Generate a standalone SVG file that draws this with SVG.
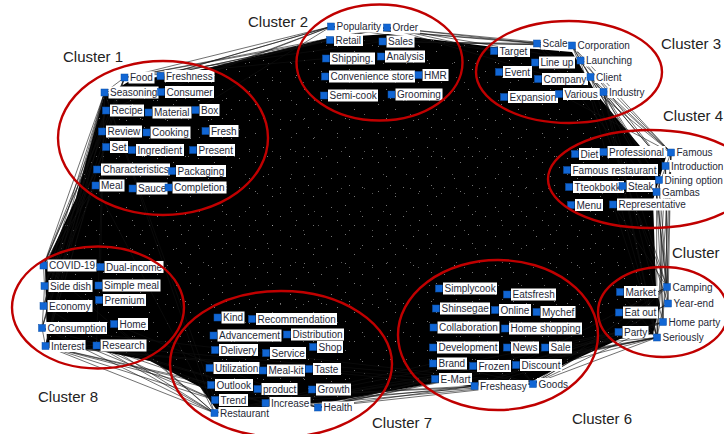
<svg xmlns="http://www.w3.org/2000/svg" width="724" height="434" viewBox="0 0 724 434">
<style>
.nd{fill:#1166d4;stroke:#0b4fa8;stroke-width:.5}
.lb{fill:#fff}
.tx{font-family:"Liberation Sans",Arial,sans-serif;font-size:10px;fill:#1e2836}
.ct{font-family:"Liberation Sans",Arial,sans-serif;font-size:15px;fill:#222}
.cl{fill:none;stroke:#c00000;stroke-width:2.4}
.ed{fill:none;stroke:#111;stroke-width:.6}
</style>
<defs>
<polygon id="hull" points="128,82 200,70 328,38 388,34 494,47 537,49 572,52 598,96 640,146 666,157 653,200 656,286 660,305 653,334 620,339 565,364 531,382 470,386 440,382 330,402 262,407 216,409 200,387 150,361 96,350 47,346 45,266 76,198 104,96"/>
<pattern id="sp1" width="41" height="29" patternUnits="userSpaceOnUse"><path d="M3 4h1v1h-1zM17 2h1v1h-1zM34 13h1v1h-1zM9 17h1v1h-1zM26 22h1v1h-1zM21 11h1v1h-1z" fill="#fff"/></pattern>
<pattern id="sp2" width="23" height="37" patternUnits="userSpaceOnUse"><path d="M4 8h1v1h-1zM15 26h1v1h-1zM19 3h1v1h-1z" fill="#fff"/></pattern>
</defs>
<rect width="724" height="434" fill="#fff"/>
<g id="connectors">
<use href="#hull" fill="#000"/>
<use href="#hull" fill="url(#sp1)" opacity=".45"/>
<use href="#hull" fill="url(#sp2)" opacity=".35"/>
<path class="ed" d="M104.5 92.5L43.5 265.5M104.5 92.5L44.5 286M104.5 92.5L43.5 306M104.5 92.5L42 328M104.5 92.5L45.5 346M104.5 92.5L96.5 345.5M104.5 92.5L214.5 413M104.5 92.5L215 400M124.5 77.5L43.5 265.5M124.5 77.5L44.5 286M124.5 77.5L42 328M124.5 77.5L45.5 346M124.5 77.5L104.5 92.5M106 110.5L43.5 265.5M106 110.5L43.5 306M106 110.5L45.5 346M102 131.5L43.5 265.5M102 131.5L42 328M106 147L44.5 286M97 169.5L43.5 265.5M97 169.5L45.5 346M95.5 185.5L43.5 265.5M95.5 185.5L43.5 306M95.5 185.5L214.5 413M104.5 92.5L100.5 267
M331 26.5L124.5 77.5M331 26.5L160.5 76M331 26.5L104.5 92.5M331 26.5L161 92M331 26.5L195.5 110M331 26.5L106 110.5M330 40L124.5 77.5M330 40L104.5 92.5M330 40L160.5 76M387 27.5L124.5 77.5M387 27.5L104.5 92.5M387 27.5L160.5 76M326 58.5L124.5 77.5M382.5 41.5L124.5 77.5
M387 27.5L494 51M387 27.5L537 43.5M387 27.5L572 45.5M387 27.5L580.5 60.5M387 27.5L603.5 92M331 26.5L537 43.5M331 26.5L572 45.5M331 26.5L494 51M382.5 41.5L537 43.5M382.5 41.5L572 45.5M330 40L572 45.5M331 26.5L387 27.5
M572 45.5L671 152.5M572 45.5L665.5 166M572 45.5L656.5 192M572 45.5L667 287M580.5 60.5L671 152.5M580.5 60.5L659 180M580.5 60.5L657 337.5M590.5 77L671 152.5M590.5 77L665.5 166M590.5 77L656.5 192M590.5 77L668 303.5M603.5 92L671 152.5M603.5 92L665.5 166M603.5 92L659 180M603.5 92L656.5 192M603.5 92L667 287M603.5 92L663 322M603.5 92L657 337.5M537 43.5L671 152.5M537 43.5L656.5 192M559 94L671 152.5M572 45.5L580.5 60.5L590.5 77L603.5 92
M671 152.5L667 287M671 152.5L668 303.5M671 152.5L663 322M671 152.5L657 337.5M665.5 166L667 287M665.5 166L668 303.5M665.5 166L657 337.5M659 180L667 287M659 180L663 322M656.5 192L667 287M656.5 192L668 303.5M656.5 192L663 322M656.5 192L657 337.5M613 204.5L667 287M613 204.5L657 337.5M622.5 186L657 337.5M671 152.5L656.5 192
M667 287L657 337.5M667 287L618.5 332M668 303.5L618.5 332M663 322L618.5 332M657 337.5L620 292M657 337.5L619 312.5M667 287L619 312.5
M657 337.5L533 384M657 337.5L516 365M657 337.5L474.5 386M657 337.5L545 347.5M657 337.5L435 379M618.5 332L533 384M618.5 332L516 365M618.5 332L474.5 386M663 322L533 384M663 322L516 365M668 303.5L533 384M667 287L533 384M667 287L516 365M657 337.5L318 407.5M657 337.5L214.5 413M618.5 332L214.5 413M618.5 332L318 407.5M663 322L474.5 386
M533 384L433 363.5M533 384L473 366M533 384L435 379M533 384L516 365M533 384L474.5 386M533 384L507 347.5
M533 384L214.5 413M533 384L318 407.5M533 384L215 400M533 384L265.5 403M474.5 386L214.5 413M474.5 386L318 407.5M474.5 386L215 400M435 379L214.5 413M435 379L318 407.5M516 365L214.5 413M516 365L318 407.5M433 363.5L214.5 413
M45.5 346L214.5 413M45.5 346L215 400M45.5 346L211 385M45.5 346L318 407.5M45.5 346L265.5 403M96.5 345.5L214.5 413M96.5 345.5L215 400M96.5 345.5L318 407.5M96.5 345.5L265.5 403M42 328L214.5 413M42 328L215 400M42 328L318 407.5M43.5 306L214.5 413M43.5 265.5L214.5 413M114 324L214.5 413M114 324L318 407.5M45.5 346L96.5 345.5M45.5 346L474.5 386M96.5 345.5L533 384M45.5 346L435 379M42 328L533 384
M43.5 265.5L44.5 286L43.5 306L42 328L45.5 346"/>
</g>
<g id="nodes" class="tx">
<g id="n-food" transform="translate(124.5 77.5)"><rect class="lb" x="4" y="-6" width="26" height="12"/><rect class="nd" x="-3.5" y="-3.5" width="7" height="7"/><text x="5.5" y="3.5">Food</text></g>
<g id="n-freshness" transform="translate(160.5 76)"><rect class="lb" x="4" y="-6" width="50" height="12"/><rect class="nd" x="-3.5" y="-3.5" width="7" height="7"/><text x="5.5" y="3.5">Freshness</text></g>
<g id="n-seasoning" transform="translate(104.5 92.5)"><rect class="lb" x="4" y="-6" width="50" height="12"/><rect class="nd" x="-3.5" y="-3.5" width="7" height="7"/><text x="5.5" y="3.5">Seasoning</text></g>
<g id="n-consumer" transform="translate(161 92)"><rect class="lb" x="4" y="-6" width="49" height="12"/><rect class="nd" x="-3.5" y="-3.5" width="7" height="7"/><text x="5.5" y="3.5">Consumer</text></g>
<g id="n-recipe" transform="translate(106 110.5)"><rect class="lb" x="4" y="-6" width="34" height="12"/><rect class="nd" x="-3.5" y="-3.5" width="7" height="7"/><text x="5.5" y="3.5">Recipe</text></g>
<g id="n-material" transform="translate(148.5 112.5)"><rect class="lb" x="4" y="-6" width="39" height="12"/><rect class="nd" x="-3.5" y="-3.5" width="7" height="7"/><text x="5.5" y="3.5">Material</text></g>
<g id="n-box" transform="translate(195.5 110)"><rect class="lb" x="4" y="-6" width="20" height="12"/><rect class="nd" x="-3.5" y="-3.5" width="7" height="7"/><text x="5.5" y="3.5">Box</text></g>
<g id="n-review" transform="translate(102 131.5)"><rect class="lb" x="4" y="-6" width="36" height="12"/><rect class="nd" x="-3.5" y="-3.5" width="7" height="7"/><text x="5.5" y="3.5">Review</text></g>
<g id="n-cooking" transform="translate(146.5 132.5)"><rect class="lb" x="4" y="-6" width="40" height="12"/><rect class="nd" x="-3.5" y="-3.5" width="7" height="7"/><text x="5.5" y="3.5">Cooking</text></g>
<g id="n-fresh" transform="translate(205.5 131)"><rect class="lb" x="4" y="-6" width="29" height="12"/><rect class="nd" x="-3.5" y="-3.5" width="7" height="7"/><text x="5.5" y="3.5">Fresh</text></g>
<g id="n-set" transform="translate(106 147)"><rect class="lb" x="4" y="-6" width="18" height="12"/><rect class="nd" x="-3.5" y="-3.5" width="7" height="7"/><text x="5.5" y="3.5">Set</text></g>
<g id="n-ingredient" transform="translate(132 150)"><rect class="lb" x="4" y="-6" width="48" height="12"/><rect class="nd" x="-3.5" y="-3.5" width="7" height="7"/><text x="5.5" y="3.5">Ingredient</text></g>
<g id="n-present" transform="translate(193 150)"><rect class="lb" x="4" y="-6" width="38" height="12"/><rect class="nd" x="-3.5" y="-3.5" width="7" height="7"/><text x="5.5" y="3.5">Present</text></g>
<g id="n-characteristics" transform="translate(97 169.5)"><rect class="lb" x="4" y="-6" width="69" height="12"/><rect class="nd" x="-3.5" y="-3.5" width="7" height="7"/><text x="5.5" y="3.5">Characteristics</text></g>
<g id="n-packaging" transform="translate(172 171)"><rect class="lb" x="4" y="-6" width="50" height="12"/><rect class="nd" x="-3.5" y="-3.5" width="7" height="7"/><text x="5.5" y="3.5">Packaging</text></g>
<g id="n-meal" transform="translate(95.5 185.5)"><rect class="lb" x="4" y="-6" width="25" height="12"/><rect class="nd" x="-3.5" y="-3.5" width="7" height="7"/><text x="5.5" y="3.5">Meal</text></g>
<g id="n-sauce" transform="translate(132.5 188.5)"><rect class="lb" x="4" y="-6" width="31" height="12"/><rect class="nd" x="-3.5" y="-3.5" width="7" height="7"/><text x="5.5" y="3.5">Sauce</text></g>
<g id="n-completion" transform="translate(168.5 187.5)"><rect class="lb" x="4" y="-6" width="54" height="12"/><rect class="nd" x="-3.5" y="-3.5" width="7" height="7"/><text x="5.5" y="3.5">Completion</text></g>

<g id="n-popularity" transform="translate(331 26.5)"><rect class="lb" x="4" y="-6" width="48" height="12"/><rect class="nd" x="-3.5" y="-3.5" width="7" height="7"/><text x="5.5" y="3.5">Popularity</text></g>
<g id="n-order" transform="translate(387 27.5)"><rect class="lb" x="4" y="-6" width="29" height="12"/><rect class="nd" x="-3.5" y="-3.5" width="7" height="7"/><text x="5.5" y="3.5">Order</text></g>
<g id="n-retail" transform="translate(330 40)"><rect class="lb" x="4" y="-6" width="29" height="12"/><rect class="nd" x="-3.5" y="-3.5" width="7" height="7"/><text x="5.5" y="3.5">Retail</text></g>
<g id="n-sales" transform="translate(382.5 41.5)"><rect class="lb" x="4" y="-6" width="28" height="12"/><rect class="nd" x="-3.5" y="-3.5" width="7" height="7"/><text x="5.5" y="3.5">Sales</text></g>
<g id="n-shipping" transform="translate(326 58.5)"><rect class="lb" x="4" y="-6" width="45" height="12"/><rect class="nd" x="-3.5" y="-3.5" width="7" height="7"/><text x="5.5" y="3.5">Shipping.</text></g>
<g id="n-analysis" transform="translate(381 56.5)"><rect class="lb" x="4" y="-6" width="40" height="12"/><rect class="nd" x="-3.5" y="-3.5" width="7" height="7"/><text x="5.5" y="3.5">Analysis</text></g>
<g id="n-convenience" transform="translate(325 76.5)"><rect class="lb" x="4" y="-6" width="86" height="12"/><rect class="nd" x="-3.5" y="-3.5" width="7" height="7"/><text x="5.5" y="3.5">Convenience store</text></g>
<g id="n-hmr" transform="translate(418.5 75)"><rect class="lb" x="4" y="-6" width="26" height="12"/><rect class="nd" x="-3.5" y="-3.5" width="7" height="7"/><text x="5.5" y="3.5">HMR</text></g>
<g id="n-semicook" transform="translate(324 95.5)"><rect class="lb" x="4" y="-6" width="50" height="12"/><rect class="nd" x="-3.5" y="-3.5" width="7" height="7"/><text x="5.5" y="3.5">Semi-cook</text></g>
<g id="n-grooming" transform="translate(391.5 94.5)"><rect class="lb" x="4" y="-6" width="47" height="12"/><rect class="nd" x="-3.5" y="-3.5" width="7" height="7"/><text x="5.5" y="3.5">Grooming</text></g>

<g id="n-target" transform="translate(494 51)"><rect class="lb" x="4" y="-6" width="32" height="12"/><rect class="nd" x="-3.5" y="-3.5" width="7" height="7"/><text x="5.5" y="3.5">Target</text></g>
<g id="n-scale" transform="translate(537 43.5)"><rect class="lb" x="4" y="-6" width="28" height="12"/><rect class="nd" x="-3.5" y="-3.5" width="7" height="7"/><text x="5.5" y="3.5">Scale</text></g>
<g id="n-corporation" transform="translate(572 45.5)"><rect class="lb" x="4" y="-6" width="55" height="12"/><rect class="nd" x="-3.5" y="-3.5" width="7" height="7"/><text x="5.5" y="3.5">Corporation</text></g>
<g id="n-lineup" transform="translate(535 62.5)"><rect class="lb" x="4" y="-6" width="36" height="12"/><rect class="nd" x="-3.5" y="-3.5" width="7" height="7"/><text x="5.5" y="3.5">Line up</text></g>
<g id="n-launching" transform="translate(580.5 60.5)"><rect class="lb" x="4" y="-6" width="48" height="12"/><rect class="nd" x="-3.5" y="-3.5" width="7" height="7"/><text x="5.5" y="3.5">Launching</text></g>
<g id="n-event" transform="translate(499 72)"><rect class="lb" x="4" y="-6" width="29" height="12"/><rect class="nd" x="-3.5" y="-3.5" width="7" height="7"/><text x="5.5" y="3.5">Event</text></g>
<g id="n-company" transform="translate(538 79)"><rect class="lb" x="4" y="-6" width="46" height="12"/><rect class="nd" x="-3.5" y="-3.5" width="7" height="7"/><text x="5.5" y="3.5">Company</text></g>
<g id="n-client" transform="translate(590.5 77)"><rect class="lb" x="4" y="-6" width="29" height="12"/><rect class="nd" x="-3.5" y="-3.5" width="7" height="7"/><text x="5.5" y="3.5">Client</text></g>
<g id="n-expansion" transform="translate(504 97)"><rect class="lb" x="4" y="-6" width="50" height="12"/><rect class="nd" x="-3.5" y="-3.5" width="7" height="7"/><text x="5.5" y="3.5">Expansion</text></g>
<g id="n-various" transform="translate(559 94)"><rect class="lb" x="4" y="-6" width="37" height="12"/><rect class="nd" x="-3.5" y="-3.5" width="7" height="7"/><text x="5.5" y="3.5">Various</text></g>
<g id="n-industry" transform="translate(603.5 92)"><rect class="lb" x="4" y="-6" width="39" height="12"/><rect class="nd" x="-3.5" y="-3.5" width="7" height="7"/><text x="5.5" y="3.5">Industry</text></g>

<g id="n-diet" transform="translate(575 154)"><rect class="lb" x="4" y="-6" width="21" height="12"/><rect class="nd" x="-3.5" y="-3.5" width="7" height="7"/><text x="5.5" y="3.5">Diet</text></g>
<g id="n-professional" transform="translate(603.5 152)"><rect class="lb" x="4" y="-6" width="58" height="12"/><rect class="nd" x="-3.5" y="-3.5" width="7" height="7"/><text x="5.5" y="3.5">Professional</text></g>
<g id="n-famous" transform="translate(671 152.5)"><rect class="lb" x="4" y="-6" width="39" height="12"/><rect class="nd" x="-3.5" y="-3.5" width="7" height="7"/><text x="5.5" y="3.5">Famous</text></g>
<g id="n-famousrestaurant" transform="translate(567 170)"><rect class="lb" x="4" y="-6" width="87" height="12"/><rect class="nd" x="-3.5" y="-3.5" width="7" height="7"/><text x="5.5" y="3.5">Famous restaurant</text></g>
<g id="n-introduction" transform="translate(665.5 166)"><rect class="lb" x="4" y="-6" width="55" height="12"/><rect class="nd" x="-3.5" y="-3.5" width="7" height="7"/><text x="5.5" y="3.5">Introduction</text></g>
<g id="n-tteokbokki" transform="translate(569 187)"><rect class="lb" x="4" y="-6" width="51" height="12"/><rect class="nd" x="-3.5" y="-3.5" width="7" height="7"/><text x="5.5" y="3.5">Tteokbokki</text></g>
<g id="n-steak" transform="translate(622.5 186)"><rect class="lb" x="4" y="-6" width="29" height="12"/><rect class="nd" x="-3.5" y="-3.5" width="7" height="7"/><text x="5.5" y="3.5">Steak</text></g>
<g id="n-dining" transform="translate(659 180)"><rect class="lb" x="4" y="-6" width="64" height="12"/><rect class="nd" x="-3.5" y="-3.5" width="7" height="7"/><text x="5.5" y="3.5">Dining option</text></g>
<g id="n-gambas" transform="translate(656.5 192)"><rect class="lb" x="4" y="-6" width="41" height="12"/><rect class="nd" x="-3.5" y="-3.5" width="7" height="7"/><text x="5.5" y="3.5">Gambas</text></g>
<g id="n-menu" transform="translate(571 205)"><rect class="lb" x="4" y="-6" width="28" height="12"/><rect class="nd" x="-3.5" y="-3.5" width="7" height="7"/><text x="5.5" y="3.5">Menu</text></g>
<g id="n-representative" transform="translate(613 204.5)"><rect class="lb" x="4" y="-6" width="70" height="12"/><rect class="nd" x="-3.5" y="-3.5" width="7" height="7"/><text x="5.5" y="3.5">Representative</text></g>

<g id="n-market" transform="translate(620 292)"><rect class="lb" x="4" y="-6" width="34" height="12"/><rect class="nd" x="-3.5" y="-3.5" width="7" height="7"/><text x="5.5" y="3.5">Market</text></g>
<g id="n-camping" transform="translate(667 287)"><rect class="lb" x="4" y="-6" width="43" height="12"/><rect class="nd" x="-3.5" y="-3.5" width="7" height="7"/><text x="5.5" y="3.5">Camping</text></g>
<g id="n-yearend" transform="translate(668 303.5)"><rect class="lb" x="4" y="-6" width="44" height="12"/><rect class="nd" x="-3.5" y="-3.5" width="7" height="7"/><text x="5.5" y="3.5">Year-end</text></g>
<g id="n-eatout" transform="translate(619 312.5)"><rect class="lb" x="4" y="-6" width="35" height="12"/><rect class="nd" x="-3.5" y="-3.5" width="7" height="7"/><text x="5.5" y="3.5">Eat out</text></g>
<g id="n-homeparty" transform="translate(663 322)"><rect class="lb" x="4" y="-6" width="55" height="12"/><rect class="nd" x="-3.5" y="-3.5" width="7" height="7"/><text x="5.5" y="3.5">Home party</text></g>
<g id="n-party" transform="translate(618.5 332)"><rect class="lb" x="4" y="-6" width="26" height="12"/><rect class="nd" x="-3.5" y="-3.5" width="7" height="7"/><text x="5.5" y="3.5">Party</text></g>
<g id="n-seriously" transform="translate(657 337.5)"><rect class="lb" x="4" y="-6" width="44" height="12"/><rect class="nd" x="-3.5" y="-3.5" width="7" height="7"/><text x="5.5" y="3.5">Seriously</text></g>

<g id="n-simplycook" transform="translate(439 288.5)"><rect class="lb" x="4" y="-6" width="54" height="12"/><rect class="nd" x="-3.5" y="-3.5" width="7" height="7"/><text x="5.5" y="3.5">Simplycook</text></g>
<g id="n-eatsfresh" transform="translate(507 294.5)"><rect class="lb" x="4" y="-6" width="45" height="12"/><rect class="nd" x="-3.5" y="-3.5" width="7" height="7"/><text x="5.5" y="3.5">Eatsfresh</text></g>
<g id="n-shinsegae" transform="translate(436 308.5)"><rect class="lb" x="4" y="-6" width="50" height="12"/><rect class="nd" x="-3.5" y="-3.5" width="7" height="7"/><text x="5.5" y="3.5">Shinsegae</text></g>
<g id="n-online" transform="translate(495 310)"><rect class="lb" x="4" y="-6" width="32" height="12"/><rect class="nd" x="-3.5" y="-3.5" width="7" height="7"/><text x="5.5" y="3.5">Online</text></g>
<g id="n-mychef" transform="translate(536.5 312)"><rect class="lb" x="4" y="-6" width="35" height="12"/><rect class="nd" x="-3.5" y="-3.5" width="7" height="7"/><text x="5.5" y="3.5">Mychef</text></g>
<g id="n-collaboration" transform="translate(433.5 327.5)"><rect class="lb" x="4" y="-6" width="62" height="12"/><rect class="nd" x="-3.5" y="-3.5" width="7" height="7"/><text x="5.5" y="3.5">Collaboration</text></g>
<g id="n-homeshopping" transform="translate(505 328.5)"><rect class="lb" x="4" y="-6" width="73" height="12"/><rect class="nd" x="-3.5" y="-3.5" width="7" height="7"/><text x="5.5" y="3.5">Home shopping</text></g>
<g id="n-development" transform="translate(433 347.5)"><rect class="lb" x="4" y="-6" width="62" height="12"/><rect class="nd" x="-3.5" y="-3.5" width="7" height="7"/><text x="5.5" y="3.5">Development</text></g>
<g id="n-news" transform="translate(507 347.5)"><rect class="lb" x="4" y="-6" width="28" height="12"/><rect class="nd" x="-3.5" y="-3.5" width="7" height="7"/><text x="5.5" y="3.5">News</text></g>
<g id="n-sale" transform="translate(545 347.5)"><rect class="lb" x="4" y="-6" width="23" height="12"/><rect class="nd" x="-3.5" y="-3.5" width="7" height="7"/><text x="5.5" y="3.5">Sale</text></g>
<g id="n-brand" transform="translate(433 363.5)"><rect class="lb" x="4" y="-6" width="30" height="12"/><rect class="nd" x="-3.5" y="-3.5" width="7" height="7"/><text x="5.5" y="3.5">Brand</text></g>
<g id="n-frozen" transform="translate(473 366)"><rect class="lb" x="4" y="-6" width="34" height="12"/><rect class="nd" x="-3.5" y="-3.5" width="7" height="7"/><text x="5.5" y="3.5">Frozen</text></g>
<g id="n-discount" transform="translate(516 365)"><rect class="lb" x="4" y="-6" width="42" height="12"/><rect class="nd" x="-3.5" y="-3.5" width="7" height="7"/><text x="5.5" y="3.5">Discount</text></g>
<g id="n-emart" transform="translate(435 379)"><rect class="lb" x="4" y="-6" width="33" height="12"/><rect class="nd" x="-3.5" y="-3.5" width="7" height="7"/><text x="5.5" y="3.5">E-Mart</text></g>
<g id="n-fresheasy" transform="translate(474.5 386)"><rect class="lb" x="4" y="-6" width="50" height="12"/><rect class="nd" x="-3.5" y="-3.5" width="7" height="7"/><text x="5.5" y="3.5">Fresheasy</text></g>
<g id="n-goods" transform="translate(533 384)"><rect class="lb" x="4" y="-6" width="33" height="12"/><rect class="nd" x="-3.5" y="-3.5" width="7" height="7"/><text x="5.5" y="3.5">Goods</text></g>

<g id="n-kind" transform="translate(217.5 317.5)"><rect class="lb" x="4" y="-6" width="23" height="12"/><rect class="nd" x="-3.5" y="-3.5" width="7" height="7"/><text x="5.5" y="3.5">Kind</text></g>
<g id="n-recommendation" transform="translate(252 319)"><rect class="lb" x="4" y="-6" width="81" height="12"/><rect class="nd" x="-3.5" y="-3.5" width="7" height="7"/><text x="5.5" y="3.5">Recommendation</text></g>
<g id="n-advancement" transform="translate(213.5 335.5)"><rect class="lb" x="4" y="-6" width="64" height="12"/><rect class="nd" x="-3.5" y="-3.5" width="7" height="7"/><text x="5.5" y="3.5">Advancement</text></g>
<g id="n-distribution" transform="translate(287 334.5)"><rect class="lb" x="4" y="-6" width="53" height="12"/><rect class="nd" x="-3.5" y="-3.5" width="7" height="7"/><text x="5.5" y="3.5">Distribution</text></g>
<g id="n-delivery" transform="translate(215 350)"><rect class="lb" x="4" y="-6" width="39" height="12"/><rect class="nd" x="-3.5" y="-3.5" width="7" height="7"/><text x="5.5" y="3.5">Delivery</text></g>
<g id="n-service" transform="translate(266 353)"><rect class="lb" x="4" y="-6" width="36" height="12"/><rect class="nd" x="-3.5" y="-3.5" width="7" height="7"/><text x="5.5" y="3.5">Service</text></g>
<g id="n-shop" transform="translate(313 347)"><rect class="lb" x="4" y="-6" width="26" height="12"/><rect class="nd" x="-3.5" y="-3.5" width="7" height="7"/><text x="5.5" y="3.5">Shop</text></g>
<g id="n-utilization" transform="translate(209.5 368)"><rect class="lb" x="4" y="-6" width="46" height="12"/><rect class="nd" x="-3.5" y="-3.5" width="7" height="7"/><text x="5.5" y="3.5">Utilization</text></g>
<g id="n-mealkit" transform="translate(263 370.5)"><rect class="lb" x="4" y="-6" width="38" height="12"/><rect class="nd" x="-3.5" y="-3.5" width="7" height="7"/><text x="5.5" y="3.5">Meal-kit</text></g>
<g id="n-taste" transform="translate(309 369)"><rect class="lb" x="4" y="-6" width="28" height="12"/><rect class="nd" x="-3.5" y="-3.5" width="7" height="7"/><text x="5.5" y="3.5">Taste</text></g>
<g id="n-outlook" transform="translate(211 385)"><rect class="lb" x="4" y="-6" width="38" height="12"/><rect class="nd" x="-3.5" y="-3.5" width="7" height="7"/><text x="5.5" y="3.5">Outlook</text></g>
<g id="n-product" transform="translate(257.5 389)"><rect class="lb" x="4" y="-6" width="36" height="12"/><rect class="nd" x="-3.5" y="-3.5" width="7" height="7"/><text x="5.5" y="3.5">product</text></g>
<g id="n-growth" transform="translate(312 389.5)"><rect class="lb" x="4" y="-6" width="35" height="12"/><rect class="nd" x="-3.5" y="-3.5" width="7" height="7"/><text x="5.5" y="3.5">Growth</text></g>
<g id="n-trend" transform="translate(215 400)"><rect class="lb" x="4" y="-6" width="29" height="12"/><rect class="nd" x="-3.5" y="-3.5" width="7" height="7"/><text x="5.5" y="3.5">Trend</text></g>
<g id="n-increase" transform="translate(265.5 403)"><rect class="lb" x="4" y="-6" width="41" height="12"/><rect class="nd" x="-3.5" y="-3.5" width="7" height="7"/><text x="5.5" y="3.5">Increase</text></g>
<g id="n-health" transform="translate(318 407.5)"><rect class="lb" x="4" y="-6" width="32" height="12"/><rect class="nd" x="-3.5" y="-3.5" width="7" height="7"/><text x="5.5" y="3.5">Health</text></g>
<g id="n-restaurant" transform="translate(214.5 413)"><rect class="lb" x="4" y="-6" width="52" height="12"/><rect class="nd" x="-3.5" y="-3.5" width="7" height="7"/><text x="5.5" y="3.5">Restaurant</text></g>

<g id="n-covid" transform="translate(43.5 265.5)"><rect class="lb" x="4" y="-6" width="49" height="12"/><rect class="nd" x="-3.5" y="-3.5" width="7" height="7"/><text x="5.5" y="3.5">COVID-19</text></g>
<g id="n-dualincome" transform="translate(100.5 267)"><rect class="lb" x="4" y="-6" width="59" height="12"/><rect class="nd" x="-3.5" y="-3.5" width="7" height="7"/><text x="5.5" y="3.5">Dual-income</text></g>
<g id="n-sidedish" transform="translate(44.5 286)"><rect class="lb" x="4" y="-6" width="44" height="12"/><rect class="nd" x="-3.5" y="-3.5" width="7" height="7"/><text x="5.5" y="3.5">Side dish</text></g>
<g id="n-simplemeal" transform="translate(98.5 285.5)"><rect class="lb" x="4" y="-6" width="58" height="12"/><rect class="nd" x="-3.5" y="-3.5" width="7" height="7"/><text x="5.5" y="3.5">Simple meal</text></g>
<g id="n-economy" transform="translate(43.5 306)"><rect class="lb" x="4" y="-6" width="45" height="12"/><rect class="nd" x="-3.5" y="-3.5" width="7" height="7"/><text x="5.5" y="3.5">Economy</text></g>
<g id="n-premium" transform="translate(99 300)"><rect class="lb" x="4" y="-6" width="43" height="12"/><rect class="nd" x="-3.5" y="-3.5" width="7" height="7"/><text x="5.5" y="3.5">Premium</text></g>
<g id="n-consumption" transform="translate(42 328)"><rect class="lb" x="4" y="-6" width="61" height="12"/><rect class="nd" x="-3.5" y="-3.5" width="7" height="7"/><text x="5.5" y="3.5">Consumption</text></g>
<g id="n-home" transform="translate(114 324)"><rect class="lb" x="4" y="-6" width="30" height="12"/><rect class="nd" x="-3.5" y="-3.5" width="7" height="7"/><text x="5.5" y="3.5">Home</text></g>
<g id="n-interest" transform="translate(45.5 346)"><rect class="lb" x="4" y="-6" width="36" height="12"/><rect class="nd" x="-3.5" y="-3.5" width="7" height="7"/><text x="5.5" y="3.5">Interest</text></g>
<g id="n-research" transform="translate(96.5 345.5)"><rect class="lb" x="4" y="-6" width="46" height="12"/><rect class="nd" x="-3.5" y="-3.5" width="7" height="7"/><text x="5.5" y="3.5">Research</text></g>
</g>
<g id="clusters">
<ellipse class="cl" cx="163" cy="138" rx="105" ry="77"/>
<ellipse class="cl" cx="379.5" cy="62.5" rx="83" ry="58"/>
<ellipse class="cl" cx="569" cy="72" rx="93" ry="51"/>
<ellipse class="cl" cx="650" cy="179" rx="102" ry="49"/>
<ellipse class="cl" cx="663" cy="312" rx="65" ry="45"/>
<ellipse class="cl" cx="498" cy="335" rx="100" ry="75"/>
<ellipse class="cl" cx="281" cy="364" rx="111" ry="73"/>
<ellipse class="cl" cx="98" cy="307.5" rx="86" ry="61"/>
<text class="ct" x="63" y="62">Cluster 1</text>
<text class="ct" x="248" y="27">Cluster 2</text>
<text class="ct" x="661" y="49">Cluster 3</text>
<text class="ct" x="663" y="121">Cluster 4</text>
<text class="ct" x="672" y="258">Cluster</text>
<text class="ct" x="572" y="424">Cluster 6</text>
<text class="ct" x="372" y="428">Cluster 7</text>
<text class="ct" x="38" y="402">Cluster 8</text>
</g>
</svg>
